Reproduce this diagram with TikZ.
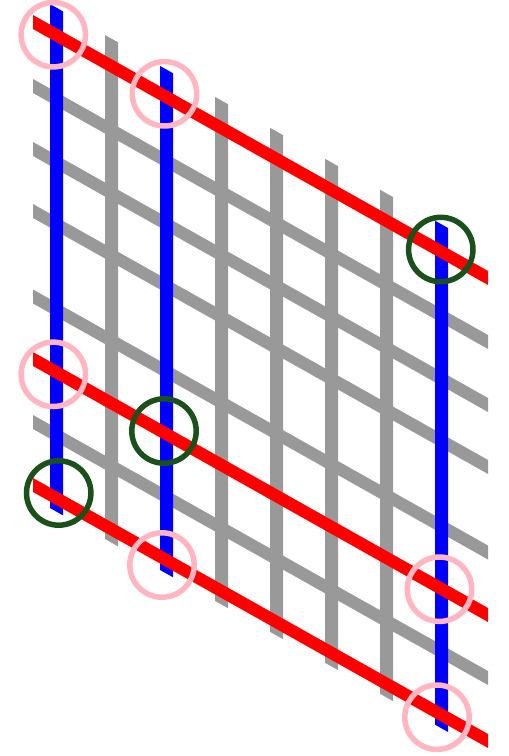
\documentclass[tikz,border=0pt]{standalone}
\definecolor{bargray}{RGB}{153,153,153}
\definecolor{barblue}{RGB}{0,0,255}
\definecolor{barred}{RGB}{255,0,0}
\definecolor{ringpink}{RGB}{255,182,193}
\definecolor{ringgreen}{RGB}{26,80,26}
\tikzset{
  colbar/.style={fill=#1},
  rowbar/.style={fill=#1},
  ring/.style={draw=#1, line width=5.5pt},
}
\newcommand{\colbar}[2]{\fill[colbar=#2] (#1-6.5,-5.5) rectangle (#1+6.5,498.5);}
\newcommand{\rowbar}[2]{\fill[rowbar=#2] (33,#1-7) rectangle (488,#1+7);}
\begin{document}
\begin{tikzpicture}[x=1pt,y=-1pt]
\useasboundingbox (0,0) rectangle (509,756);
\begin{scope}[shift={(0,-18.57)}, yslant=-0.5626]
  % gray columns
  \foreach \c in {111.5,221.5,276.5,331.5,386.5} {\colbar{\c}{bargray}}
  % gray rows
  \foreach \r in {86,149,211,296.5,422} {\rowbar{\r}{bargray}}
  % blue columns
  \foreach \c in {56.5,166.5,441.5} {\colbar{\c}{barblue}}
  % red rows
  \foreach \r in {22,359,485} {\rowbar{\r}{barred}}
\end{scope}
% rings
\draw[ring=ringpink]  (53.3,34.7)  circle (32.2);
\draw[ring=ringpink]  (164.5,93.8) circle (32.2);
\draw[ring=ringgreen] (440.8,249.5) circle (32.2);
\draw[ring=ringpink]  (53.3,374.3) circle (32.2);
\draw[ring=ringgreen] (164,431)    circle (32.2);
\draw[ring=ringgreen] (58.7,493)   circle (32.2);
\draw[ring=ringpink]  (162,565)    circle (32.2);
\draw[ring=ringpink]  (439.5,589.2) circle (32.2);
\draw[ring=ringpink]  (437,717.2)  circle (32.2);
\end{tikzpicture}
\end{document}
